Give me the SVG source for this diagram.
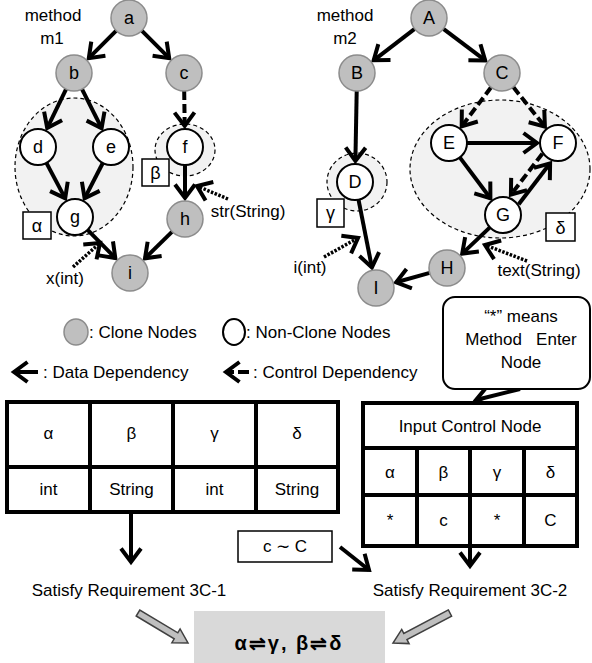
<svg xmlns="http://www.w3.org/2000/svg" width="592" height="663" viewBox="0 0 592 663">
  <defs>
    <marker id="ah" markerUnits="userSpaceOnUse" markerWidth="28" markerHeight="26" refX="15" refY="12" orient="auto">
      <path d="M1.5,2 L15,12 L1.5,22" fill="none" stroke="#000" stroke-width="4"/>
    </marker>
    <style>
      text { font-family: "Liberation Sans", Arial, sans-serif; font-size: 17px; fill: #000; }
      .c { text-anchor: middle; }
      .n { font-size: 18px; }
      .clone { fill: #bfbfbf; stroke: #8c8c8c; stroke-width: 1.5; }
      .plain { fill: #fff; stroke: #000; stroke-width: 2; }
      .region { fill: #f2f2f2; stroke: #000; stroke-width: 1.2; stroke-dasharray: 4 3; }
      .tag { fill: #fff; stroke: #000; stroke-width: 1.5; }
      .data { fill: none; stroke: #000; stroke-width: 4; marker-end: url(#ah); }
      .ctrl { fill: none; stroke: #000; stroke-width: 4; stroke-dasharray: 9 4; marker-end: url(#ah); }
      .param { fill: none; stroke: #000; stroke-width: 3.5; stroke-dasharray: 2.5 1.5; marker-end: url(#ah); }
      .tbl { fill: #fff; stroke: #000; stroke-width: 4; }
      .grid { stroke: #000; stroke-width: 4; }
      .block { fill: #bfbfbf; stroke: #404040; stroke-width: 1.5; stroke-linejoin: miter; }
    </style>
  </defs>

  <!-- method m1 -->
  <g id="m1-title">
    <text x="53" y="21" class="c">method</text>
    <text x="52" y="44" class="c">m1</text>
  </g>
  <g id="region-alpha">
    <ellipse cx="74" cy="167" rx="59" ry="69" class="region"/>
  </g>
  <g id="region-beta">
    <ellipse cx="185" cy="150" rx="30" ry="26" class="region"/>
  </g>

  <!-- method m2 -->
  <g id="m2-title">
    <text x="345" y="21" class="c">method</text>
    <text x="345" y="44" class="c">m2</text>
  </g>
  <g id="region-gamma">
    <ellipse cx="357" cy="182" rx="30" ry="29" class="region"/>
  </g>
  <g id="region-delta">
    <ellipse cx="500" cy="169" rx="90" ry="69" class="region"/>
  </g>

  <!-- dependency edges -->
  <g id="connectors">
    <!-- m1 -->
    <line x1="116.3" y1="30.7" x2="88.8" y2="58.2" class="data"/>
    <line x1="141.7" y1="30.7" x2="169.2" y2="58.2" class="data"/>
    <line x1="66.1" y1="89.2" x2="47.2" y2="128.1" class="data"/>
    <line x1="82" y1="89.1" x2="101.6" y2="128.2" class="data"/>
    <line x1="184.2" y1="91" x2="184.7" y2="126" class="ctrl"/>
    <line x1="46.4" y1="162.9" x2="65.2" y2="198.4" class="data"/>
    <line x1="102.8" y1="163" x2="84.6" y2="198.3" class="data"/>
    <line x1="185" y1="165" x2="185" y2="198" class="data"/>
    <line x1="87.6" y1="229.8" x2="115.3" y2="258" class="data"/>
    <line x1="172.2" y1="231.6" x2="145" y2="258.3" class="data"/>
    <line x1="73" y1="267" x2="100" y2="243" class="param"/>
    <line x1="228" y1="199" x2="197" y2="186" class="param"/>
    <!-- m2 -->
    <line x1="414.7" y1="28.9" x2="373.7" y2="60.3" class="data"/>
    <line x1="443.4" y1="28.8" x2="485.2" y2="60.4" class="data"/>
    <line x1="356.7" y1="91" x2="355.4" y2="161" class="data"/>
    <line x1="491.1" y1="87.3" x2="461.7" y2="126.3" class="ctrl"/>
    <line x1="513.3" y1="87.1" x2="544.9" y2="126.6" class="ctrl"/>
    <line x1="467" y1="143" x2="537" y2="143" class="data"/>
    <line x1="459.8" y1="157.4" x2="490.4" y2="198.2" class="data"/>
    <line x1="518.7" y1="204.3" x2="550.1" y2="163.3" class="data"/>
    <line x1="542.3" y1="153.7" x2="510.9" y2="194.7" class="ctrl"/>
    <line x1="358.5" y1="199.7" x2="371.9" y2="267.4" class="data"/>
    <line x1="489.9" y1="227.4" x2="462.2" y2="253.6" class="data"/>
    <line x1="429.7" y1="272.9" x2="396.2" y2="282.3" class="data"/>
    <line x1="324" y1="257" x2="358" y2="238" class="param"/>
    <line x1="527" y1="261" x2="485" y2="245" class="param"/>
    <!-- note, tables and results -->
    <line x1="520" y1="389" x2="476" y2="400" class="data"/>
    <line x1="131" y1="514" x2="131" y2="562" class="data"/>
    <line x1="470" y1="548" x2="470" y2="566" class="data"/>
    <line x1="340" y1="547" x2="369" y2="570" class="data"/>
  </g>

  <!-- m1 nodes -->
  <g id="node-a"><circle cx="129" cy="18" r="18" class="clone"/><text x="129" y="24" class="c n">a</text></g>
  <g id="node-b"><circle cx="74" cy="73" r="18" class="clone"/><text x="74" y="79" class="c n">b</text></g>
  <g id="node-c"><circle cx="184" cy="73" r="18" class="clone"/><text x="184" y="79" class="c n">c</text></g>
  <g id="node-d"><circle cx="38" cy="147" r="18" class="plain"/><text x="38" y="153" class="c n">d</text></g>
  <g id="node-e"><circle cx="111" cy="147" r="18" class="plain"/><text x="111" y="153" class="c n">e</text></g>
  <g id="node-f"><circle cx="185" cy="147" r="18" class="plain"/><text x="185" y="153" class="c n">f</text></g>
  <g id="node-g"><circle cx="75" cy="217" r="18" class="plain"/><text x="75" y="223" class="c n">g</text></g>
  <g id="node-h"><circle cx="185" cy="219" r="18" class="clone"/><text x="185" y="225" class="c n">h</text></g>
  <g id="node-i"><circle cx="130" cy="273" r="18" class="clone"/><text x="130" y="279" class="c n">i</text></g>

  <!-- m2 nodes -->
  <g id="node-A"><circle cx="429" cy="18" r="18" class="clone"/><text x="429" y="24" class="c n">A</text></g>
  <g id="node-B"><circle cx="357" cy="73" r="18" class="clone"/><text x="357" y="79" class="c n">B</text></g>
  <g id="node-C"><circle cx="502" cy="73" r="18" class="clone"/><text x="502" y="79" class="c n">C</text></g>
  <g id="node-D"><circle cx="355" cy="182" r="18" class="plain"/><text x="355" y="188" class="c n">D</text></g>
  <g id="node-E"><circle cx="449" cy="143" r="18" class="plain"/><text x="449" y="149" class="c n">E</text></g>
  <g id="node-F"><circle cx="558" cy="143" r="18" class="plain"/><text x="558" y="149" class="c n">F</text></g>
  <g id="node-G"><circle cx="503" cy="215" r="18" class="plain"/><text x="503" y="221" class="c n">G</text></g>
  <g id="node-H"><circle cx="447" cy="268" r="18" class="clone"/><text x="447" y="274" class="c n">H</text></g>
  <g id="node-I"><circle cx="376" cy="288" r="18" class="clone"/><text x="376" y="294" class="c n">I</text></g>

  <!-- region tags -->
  <g id="tag-alpha"><rect x="23" y="212" width="28" height="27" class="tag"/><text x="37" y="232" class="c n">α</text></g>
  <g id="tag-beta"><rect x="142" y="159" width="27" height="27" class="tag"/><text x="155.5" y="179" class="c n">β</text></g>
  <g id="tag-gamma"><rect x="317" y="199" width="27" height="28" class="tag"/><text x="330.5" y="219" class="c n">γ</text></g>
  <g id="tag-delta"><rect x="546" y="213" width="29" height="28" class="tag"/><text x="560.5" y="234" class="c n">δ</text></g>

  <!-- parameter labels -->
  <g id="param-labels">
    <text x="65" y="284" class="c">x(int)</text>
    <text x="248" y="217" class="c">str(String)</text>
    <text x="310" y="273" class="c">i(int)</text>
    <text x="539" y="276" class="c">text(String)</text>
  </g>

  <!-- legend -->
  <g id="legend">
    <ellipse cx="76" cy="332" rx="12" ry="13" class="clone"/>
    <text x="89" y="338">: Clone Nodes</text>
    <ellipse cx="234" cy="332" rx="11" ry="13" class="plain"/>
    <text x="246" y="338">: Non-Clone Nodes</text>
    <line x1="38" y1="372" x2="14" y2="372" class="data"/>
    <text x="43" y="378">: Data Dependency</text>
    <line x1="249" y1="372" x2="226" y2="372" class="data" style="stroke-dasharray:11 4"/>
    <text x="253" y="378">: Control Dependency</text>
  </g>

  <!-- note -->
  <g id="note">
    <rect x="443" y="297" width="147" height="92" rx="12" fill="#fff" stroke="#000" stroke-width="2"/>
    <text x="521" y="322" class="c">“*” means</text>
    <text x="521" y="345" class="c" xml:space="preserve">Method   Enter</text>
    <text x="521" y="368" class="c">Node</text>
  </g>

  <!-- parameter type table -->
  <g id="type-table">
    <rect x="7" y="402" width="331" height="110" class="tbl"/>
    <line x1="90" y1="402" x2="90" y2="512" class="grid"/>
    <line x1="173" y1="402" x2="173" y2="512" class="grid"/>
    <line x1="256" y1="402" x2="256" y2="512" class="grid"/>
    <line x1="7" y1="467" x2="338" y2="467" class="grid"/>
    <text x="48.5" y="439" class="c">α</text>
    <text x="131.5" y="439" class="c">β</text>
    <text x="214.5" y="439" class="c">γ</text>
    <text x="297" y="439" class="c">δ</text>
    <text x="48.5" y="495" class="c">int</text>
    <text x="131.5" y="495" class="c">String</text>
    <text x="214.5" y="495" class="c">int</text>
    <text x="297" y="495" class="c">String</text>
  </g>

  <!-- input control node table -->
  <g id="control-table">
    <rect x="363" y="403" width="214" height="143" class="tbl"/>
    <line x1="363" y1="448" x2="577" y2="448" class="grid"/>
    <line x1="363" y1="495" x2="577" y2="495" class="grid"/>
    <line x1="417" y1="448" x2="417" y2="546" class="grid"/>
    <line x1="470" y1="448" x2="470" y2="546" class="grid"/>
    <line x1="524" y1="448" x2="524" y2="546" class="grid"/>
    <text x="470" y="432" class="c">Input Control Node</text>
    <text x="390" y="478" class="c">α</text>
    <text x="443.5" y="478" class="c">β</text>
    <text x="497" y="478" class="c">γ</text>
    <text x="550.5" y="478" class="c">δ</text>
    <text x="390" y="526" class="c">*</text>
    <text x="443.5" y="526" class="c">c</text>
    <text x="497" y="526" class="c">*</text>
    <text x="550.5" y="526" class="c">C</text>
  </g>

  <!-- similarity note -->
  <g id="similar">
    <rect x="238" y="531" width="94" height="31" fill="#fff" stroke="#000" stroke-width="1.5"/>
    <text x="285" y="552" class="c">c ∼ C</text>
  </g>

  <!-- requirements -->
  <g id="req-1"><text x="129" y="596" class="c">Satisfy Requirement 3C-1</text></g>
  <g id="req-2"><text x="470" y="596" class="c">Satisfy Requirement 3C-2</text></g>

  <!-- result -->
  <g id="result">
    <rect x="194" y="611" width="191" height="52" fill="#d9d9d9"/>
    <text x="289" y="650" class="c" style="font-weight:bold;font-size:20px;letter-spacing:2px">α⇌γ, β⇌δ</text>
    <polygon class="block" points="136.2,616 174.2,638.8 171.9,642.7 188,643 180.1,628.9 177.8,632.8 139.8,610"/>
    <polygon class="block" points="448.4,609.9 403.8,633.4 401.7,629.4 393,643 409.1,643.6 407,639.6 451.6,616.1"/>
  </g>
</svg>
